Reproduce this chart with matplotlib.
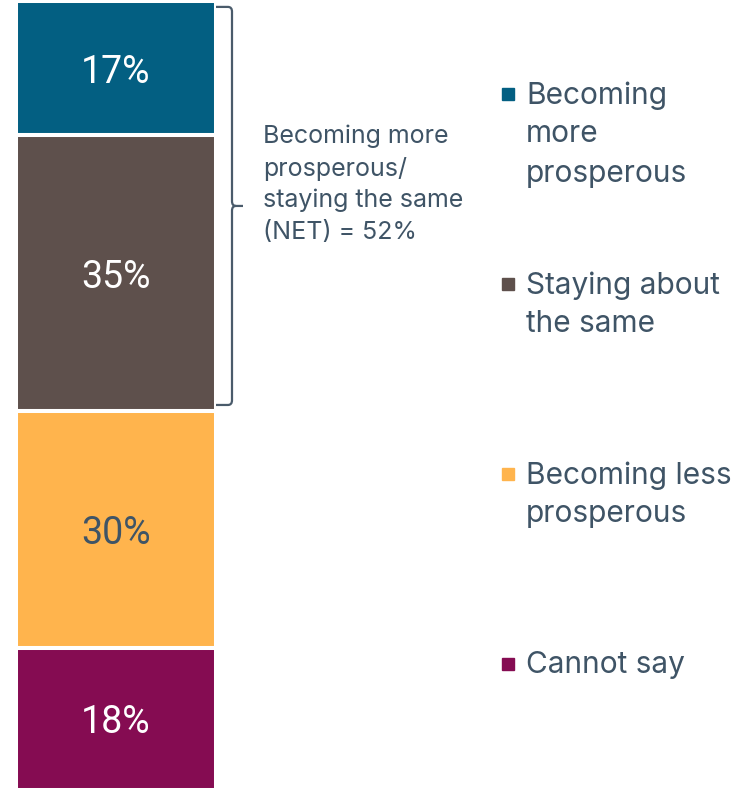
import matplotlib
matplotlib.use("Agg")
import matplotlib.pyplot as plt
from matplotlib import transforms
from matplotlib.patches import Rectangle, PathPatch
from matplotlib.path import Path

categories = ['Becoming more prosperous', 'Staying about the same',
              'Becoming less prosperous', 'Cannot say']
legend_labels = ['Becoming\nmore\nprosperous', 'Staying about\nthe same',
                 'Becoming less\nprosperous', 'Cannot say']
values = [17, 35, 30, 18]
colors = ['#035f82', '#5e504c', '#ffb44d', '#850c52']
text_color = '#3f5466'
label_colors = ['white', 'white', text_color, 'white']
net_value = values[0] + values[1]

W, H = 744, 788
fig = plt.figure(figsize=(W / 100, H / 100), dpi=100)

# bar axes, padded by 2px so the white edges form the gaps
ax = fig.add_axes([16 / W, 1 - 790 / H, 200 / W, 789 / H])
bottom = 0
for v, c, lc in zip(values, colors, label_colors):
    ax.bar(0, v, bottom=bottom, width=1, color=c, edgecolor='white', linewidth=2.9)
    ax.text(0, bottom + v / 2, f'{v}%', ha='center', va='center_baseline',
            fontsize=27, color=lc, family='Roboto')
    bottom += v
ax.set_xlim(-0.5, 0.5)
ax.set_ylim(100, 0)
ax.axis('off')

# brace over the first two segments
tr = transforms.blended_transform_factory(ax.transAxes, ax.transData)
y0, y1 = 0.75, net_value - 0.8
ym = (y0 + y1) / 2
xl, xv, xt = 1.0, 1.08, 1.135
r, ry = 0.02, 0.6
verts = [(xl, y0), (xv - r, y0), (xv, y0), (xv, y0 + ry),
         (xv, ym - ry), (xv, ym), (xv + r, ym), (xt, ym),
         (xv + r, ym), (xv, ym), (xv, ym + ry),
         (xv, y1 - ry), (xv, y1), (xv - r, y1), (xl, y1)]
codes = [Path.MOVETO, Path.LINETO, Path.CURVE3, Path.CURVE3,
         Path.LINETO, Path.CURVE3, Path.CURVE3, Path.LINETO,
         Path.MOVETO, Path.CURVE3, Path.CURVE3,
         Path.LINETO, Path.CURVE3, Path.CURVE3, Path.LINETO]
ax.add_patch(PathPatch(Path(verts, codes), transform=tr, fill=False,
                       edgecolor='#4a5b6b', linewidth=1.6, clip_on=False))

ax.text(1.235, 23.2,
        f'Becoming more\nprosperous/\nstaying the same\n(NET) = {net_value}%',
        transform=tr, ha='left', va='center', fontsize=18,
        color=text_color, family='Inter', linespacing=1.45)

# legend
leg_tops = [81, 271, 461, 651]
for lab, c, top in zip(legend_labels, colors, leg_tops):
    fig.text(526 / W, 1 - top / H, lab, ha='left', va='top', fontsize=21.5,
             color=text_color, family='Inter', linespacing=1.5)
    fig.patches.append(Rectangle((502 / W, 1 - (top + 19) / H), 12 / W, 12 / H,
                                 transform=fig.transFigure, color=c))

fig.savefig('out.png', dpi=100)
